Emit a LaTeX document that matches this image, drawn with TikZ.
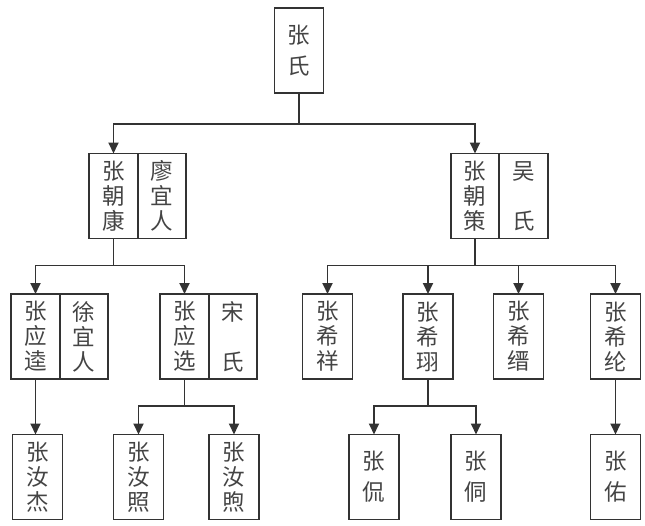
\documentclass[tikz,border=0pt]{standalone}
\usepackage{fontspec}
\newfontfamily\cjk{Noto Sans CJK SC}
\usetikzlibrary{arrows.meta}
\definecolor{lncol}{HTML}{333333}
\definecolor{txcol}{HTML}{444444}
\begin{document}
\begin{tikzpicture}[x=1pt,y=-1pt,
  box/.style={draw=lncol,line width=1.8pt,outer sep=0pt,minimum width=50pt,minimum height=85pt,inner sep=0pt,align=center,text=txcol,font=\cjk\fontsize{22.5}{25}\selectfont},
  twobox/.style={box,font=\cjk\fontsize{22.5}{31}\selectfont},
  half/.style={box,minimum width=48.5pt},
  conn/.style={draw=lncol,line width=1.8pt},
  arr/.style={conn,-{Triangle[length=11pt,width=10pt]}}]
\useasboundingbox (0,0) rectangle (645,525);
% generation 1
\node[twobox,minimum width=49pt] (top) at (299,50.5) {张\\氏};
% generation 2
\node[half] (kangL) at (113.5,196) {张\\朝\\康};
\node[half,anchor=west] (kangR) at (kangL.east) {廖\\宜\\人};
\node[half] (ceL) at (475,196) {张\\朝\\策};
\node[half,anchor=west] (ceR) at (ceL.east) {吴\\[25pt]氏};
% generation 3
\node[half] (kuiL) at (35.5,336.5) {张\\应\\逵};
\node[half,anchor=west] (kuiR) at (kuiL.east) {徐\\宜\\人};
\node[half] (xuanL) at (184.5,336.5) {张\\应\\选};
\node[half,anchor=west] (xuanR) at (xuanL.east) {宋\\[25pt]氏};
\node[box] (xiang) at (327.5,336.5) {张\\希\\祥};
\node[box] (xu) at (428,336.5) {张\\希\\珝};
\node[box] (jin) at (518.5,336.5) {张\\希\\缙};
\node[box] (lun) at (615.5,336.5) {张\\希\\纶};
% generation 4
\node[box] (jie) at (37.5,477) {张\\汝\\杰};
\node[box] (zhao) at (138.5,477) {张\\汝\\照};
\node[box] (xu2) at (234,477) {张\\汝\\煦};
\node[twobox] (kan) at (374,477) {张\\侃};
\node[twobox] (tong) at (476,477) {张\\侗};
\node[twobox] (you) at (615.5,477) {张\\佑};
% connectors
\draw[conn] (top.south) -- ++(0,31) coordinate (j0);
\draw[arr] (j0) -| (kangL.north);
\draw[arr] (j0) -| (ceL.north);
\draw[conn] (kangL.south) -- ++(0,27) coordinate (j1);
\draw[arr] (j1) -| (kuiL.north);
\draw[arr] (j1) -| (xuanL.north);
\draw[conn] (ceL.south) -- ++(0,27) coordinate (j2);
\draw[arr] (j2) -| (xiang.north);
\draw[arr] (j2) -| (xu.north);
\draw[arr] (j2) -| (jin.north);
\draw[arr] (j2) -| (lun.north);
\draw[arr] (kuiL.south) -- (kuiL.south |- jie.north);
\draw[conn] (xuanL.south) -- ++(0,27) coordinate (j3);
\draw[arr] (j3) -| (zhao.north);
\draw[arr] (j3) -| (xu2.north);
\draw[conn] (xu.south) -- ++(0,27) coordinate (j4);
\draw[arr] (j4) -| (kan.north);
\draw[arr] (j4) -| (tong.north);
\draw[arr] (lun.south) -- (lun.south |- you.north);
\end{tikzpicture}
\end{document}
